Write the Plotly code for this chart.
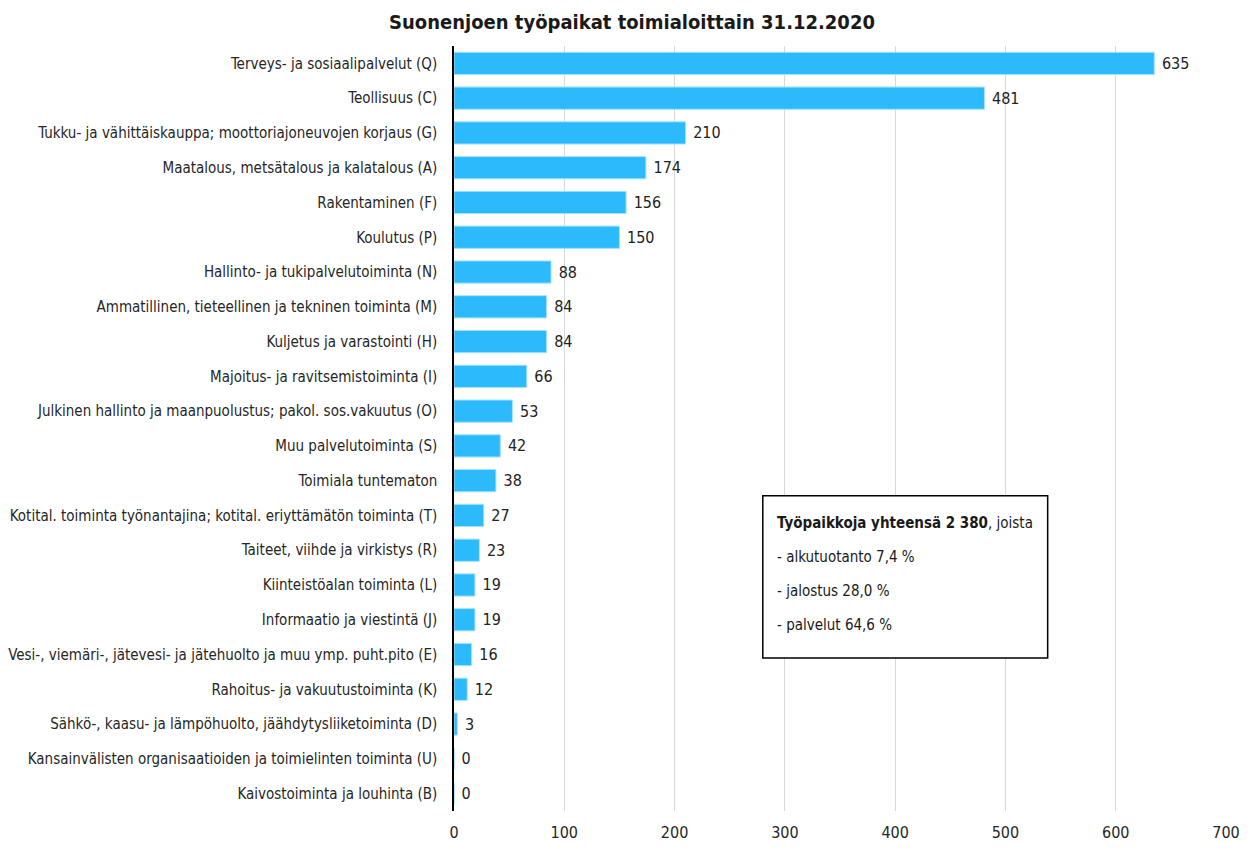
# Suonenjoen työpaikat toimialoittain 31.12.2020
import plotly.graph_objects as go

toimialat = [
    "Terveys- ja sosiaalipalvelut (Q)",
    "Teollisuus (C)",
    "Tukku- ja vähittäiskauppa; moottoriajoneuvojen korjaus (G)",
    "Maatalous, metsätalous ja kalatalous (A)",
    "Rakentaminen (F)",
    "Koulutus (P)",
    "Hallinto- ja tukipalvelutoiminta (N)",
    "Ammatillinen, tieteellinen ja tekninen toiminta (M)",
    "Kuljetus ja varastointi (H)",
    "Majoitus- ja ravitsemistoiminta (I)",
    "Julkinen hallinto ja maanpuolustus; pakol. sos.vakuutus (O)",
    "Muu palvelutoiminta (S)",
    "Toimiala tuntematon",
    "Kotital. toiminta työnantajina; kotital. eriyttämätön toiminta (T)",
    "Taiteet, viihde ja virkistys (R)",
    "Kiinteistöalan toiminta (L)",
    "Informaatio ja viestintä (J)",
    "Vesi-, viemäri-, jätevesi- ja jätehuolto ja muu ymp. puht.pito (E)",
    "Rahoitus- ja vakuutustoiminta (K)",
    "Sähkö-, kaasu- ja lämpöhuolto, jäähdytysliiketoiminta (D)",
    "Kansainvälisten organisaatioiden ja toimielinten toiminta (U)",
    "Kaivostoiminta ja louhinta (B)",
]
tyopaikat = [635, 481, 210, 174, 156, 150, 88, 84, 84, 66, 53, 42, 38, 27, 23, 19, 19, 16, 12, 3, 0, 0]

yhteensa = "Työpaikkoja yhteensä 2 380"
osuudet = ["- alkutuotanto 7,4 %", "- jalostus 28,0 %", "- palvelut 64,6 %"]

fontti = "DejaVu Sans Condensed, Liberation Sans Narrow, Arial Narrow, sans-serif"

fig = go.Figure(go.Bar(
    x=tyopaikat, y=toimialat, orientation="h",
    marker=dict(color="#2BBBFC", line=dict(color="#A8E2FE", width=1)),
    text=tyopaikat, texttemplate=" %{text}", textposition="outside", cliponaxis=False,
    textfont=dict(size=16, color="#222222"),
))

# sivun oletusmarginaali 8px huomioitu koossa
fig.update_layout(
    title=dict(text="<b>Suonenjoen työpaikat toimialoittain 31.12.2020</b>", x=0.5024, xanchor="center",
               y=0.983, yanchor="middle", font=dict(size=20, color="#1a1a1a", family=fontti)),
    font=dict(family=fontti, size=15, color="#262626"),
    plot_bgcolor="white", paper_bgcolor="white",
    width=1242, height=843,
    margin=dict(l=446, r=24, t=38, b=40),
    bargap=0.36, showlegend=False,
)
fig.update_xaxes(range=[0, 700], dtick=100, showgrid=True, gridcolor="#D9D9D9", gridwidth=1,
                 zeroline=False, tickfont=dict(size=16), ticks="", ticklabelstandoff=10,
                 automargin=False)
fig.update_yaxes(autorange="reversed", showline=True, linecolor="black", linewidth=1.5,
                 ticks="", ticklabelstandoff=12, tickfont=dict(size=15), automargin=False)

# tekstilaatikko
fig.add_shape(type="rect", xref="paper", yref="paper", x0=0.400, x1=0.769, y0=0.200, y1=0.412,
              line=dict(color="black", width=1.5), fillcolor="white", layer="above")
rivit = [f"<b>{yhteensa}</b>, joista"] + osuudet
for i, r in enumerate(rivit):
    fig.add_annotation(xref="paper", yref="paper", x=0.416, y=0.376 - i * 0.0445, text=r,
                       showarrow=False, xanchor="left", yanchor="middle",
                       font=dict(size=15, color="#1a1a1a", family=fontti))

fig.write_html("out.html")
